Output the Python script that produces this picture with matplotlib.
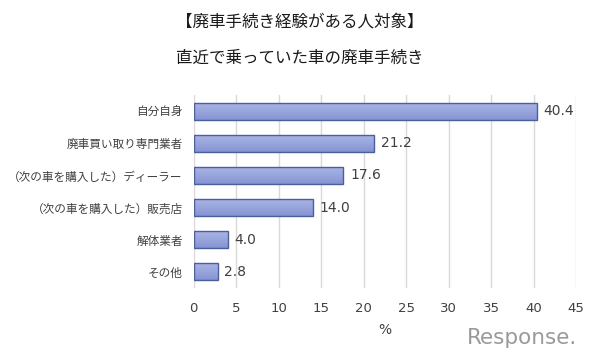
import numpy as np
import matplotlib.pyplot as plt
from matplotlib.colors import LinearSegmentedColormap

plt.rcParams['font.family'] = ['Noto Sans CJK JP', 'DejaVu Sans']

# データ
categories = ['自分自身', '廃車買い取り専門業者', '（次の車を購入した）ディーラー',
              '（次の車を購入した）販売店', '解体業者', 'その他']
values = [40.4, 21.2, 17.6, 14.0, 4.0, 2.8]
xticks = [0, 5, 10, 15, 20, 25, 30, 35, 40, 45]

fig = plt.figure(figsize=(6, 3.6), dpi=100)
ax = fig.add_axes([0.323, 0.2, 0.637, 0.536])

y = np.arange(len(categories))[::-1]
bars = ax.barh(y, values, height=0.53, facecolor='none',
               edgecolor='#4a5f9c', linewidth=1.0, zorder=3)

# バーのグラデーション
cmap = LinearSegmentedColormap.from_list('g', ['#8492d2', '#9aa7dd', '#aab5e5'])
grad = np.linspace(0, 1, 64).reshape(-1, 1)
for b in bars:
    x0, y0 = b.get_x(), b.get_y()
    w, h = b.get_width(), b.get_height()
    im = ax.imshow(grad, cmap=cmap, aspect='auto', origin='lower',
                   extent=[x0, x0 + w, y0, y0 + h], zorder=2)
    im.set_clip_path(b)

for yi, v in zip(y, values):
    ax.text(v + 0.8, yi, f'{v:.1f}', va='center', ha='left',
            fontsize=10, color='#404040', family=['DejaVu Sans'])

ax.set_xlim(0, 45)
ax.set_ylim(-0.5, 5.5)
ax.set_xticks(xticks)
ax.set_xticklabels([str(t) for t in xticks], family=['DejaVu Sans'])
ax.set_yticks(y)
ax.set_yticklabels(categories)
ax.tick_params(axis='both', length=0, colors='#404040')
ax.tick_params(axis='x', pad=10, labelsize=9.5)
ax.tick_params(axis='y', pad=8, labelsize=8.4)
ax.grid(axis='x', color='#d9d9d9', linewidth=1, zorder=0)
for s in ax.spines.values():
    s.set_visible(False)
ax.set_xlabel('%', fontsize=10, color='#404040', labelpad=6, family=['DejaVu Sans'])

fig.text(0.5, 0.939, '【廃車手続き経験がある人対象】', ha='center', va='center',
         fontsize=11.9, color='#1a1a1a')
fig.text(0.5, 0.839, '直近で乗っていた車の廃車手続き', ha='center', va='center',
         fontsize=11.9, color='#1a1a1a')

fig.text(0.962, 0.062, 'Response.', ha='right', va='center', fontsize=15.5,
         color='#9a9a9a', family=['DejaVu Sans'])

fig.savefig('out.png', dpi=100)
